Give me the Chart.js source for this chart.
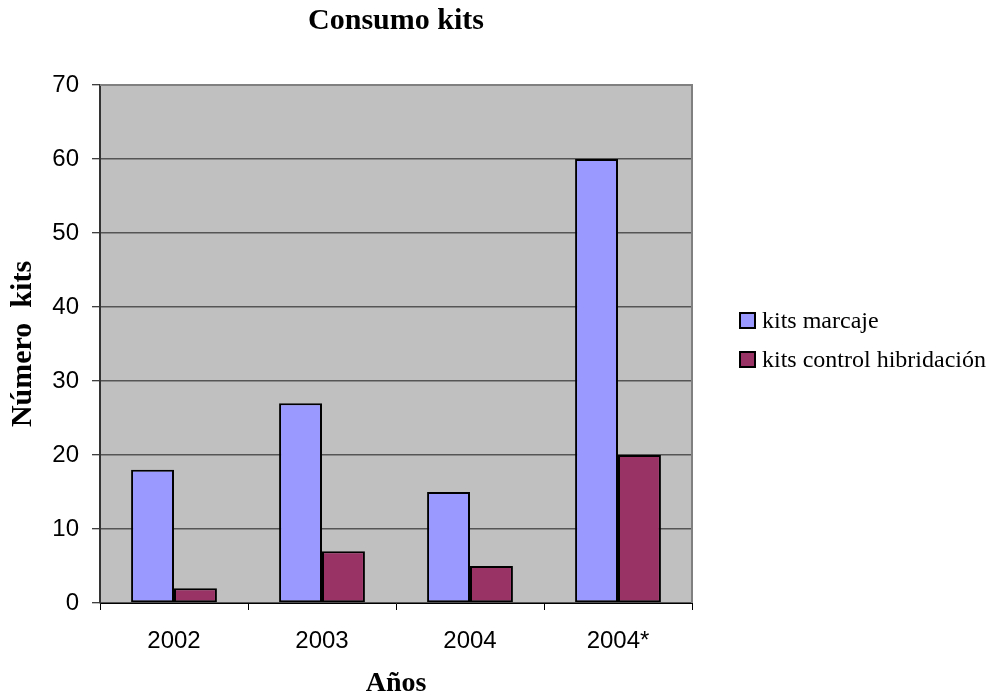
<!DOCTYPE html>
<html>
<head>
<meta charset="utf-8">
<script src="https://cdn.jsdelivr.net/npm/chart.js@4/dist/chart.umd.min.js"></script>
<style>
  html, body { margin: 0; padding: 0; background: #ffffff; }
  #wrap { width: 994px; height: 698px; }
</style>
</head>
<body>
<div id="wrap"><canvas id="c" width="994" height="698"></canvas></div>
<script>
// Yearly kit consumption
const years = ['2002', '2003', '2004', '2004*'];
const kitsMarcaje = [18, 27, 15, 60];
const kitsControl = [2, 7, 5, 20];
const seriesNames = ['kits marcaje', 'kits control hibridación'];
const yTicks = [0, 10, 20, 30, 40, 50, 60, 70];

const serif = '"Liberation Serif", "Times New Roman", serif';
const sans = '"Liberation Sans", Arial, sans-serif';

// Grey plot background with a grey frame on the top and right
const plotBackground = {
  id: 'plotBackground',
  beforeDraw(chart) {
    const { ctx, chartArea: a } = chart;
    ctx.save();
    ctx.fillStyle = '#C0C0C0';
    ctx.fillRect(a.left, a.top, a.right - a.left, a.bottom - a.top);
    ctx.restore();
  },
  afterDatasetsDraw(chart) {
    const { ctx, chartArea: a } = chart;
    ctx.save();
    ctx.strokeStyle = '#808080';
    ctx.lineWidth = 2;
    ctx.beginPath();
    ctx.moveTo(a.left, a.top);
    ctx.lineTo(a.right, a.top);
    ctx.lineTo(a.right, a.bottom);
    ctx.stroke();
    ctx.restore();
  }
};

// Legend to the right of the plot
const sideLegend = {
  id: 'sideLegend',
  afterDraw(chart) {
    const { ctx } = chart;
    const x = 740, y0 = 320.5, step = 39, box = 15;
    ctx.save();
    ctx.font = '24px ' + serif;
    ctx.textBaseline = 'middle';
    ctx.textAlign = 'left';
    chart.data.datasets.forEach((ds, i) => {
      const y = y0 + i * step;
      ctx.fillStyle = ds.backgroundColor;
      ctx.fillRect(x, y - box / 2, box, box);
      ctx.strokeStyle = '#000';
      ctx.lineWidth = 2;
      ctx.strokeRect(x, y - box / 2, box, box);
      ctx.fillStyle = '#000';
      ctx.fillText(ds.label, x + 22, y + 1);
    });
    ctx.restore();
  }
};

new Chart(document.getElementById('c'), {
  type: 'bar',
  data: {
    labels: years,
    datasets: [
      { label: seriesNames[0], data: kitsMarcaje, backgroundColor: '#9999FF', borderColor: '#000', borderWidth: 2 },
      { label: seriesNames[1], data: kitsControl, backgroundColor: '#993366', borderColor: '#000', borderWidth: 2 }
    ]
  },
  options: {
    responsive: false,
    animation: false,
    devicePixelRatio: 1,
    layout: { padding: { left: 0, top: 0, right: 302, bottom: 0 } },
    datasets: { bar: { categoryPercentage: 0.58, barPercentage: 1.0, borderSkipped: false } },
    plugins: {
      legend: { display: false },
      tooltip: { enabled: false },
      title: {
        display: true,
        fullSize: false,
        text: 'Consumo kits',
        color: '#000',
        font: { family: serif, size: 30, weight: 'bold', lineHeight: 1.2 },
        padding: { top: 3, bottom: 46 }
      }
    },
    scales: {
      x: {
        offset: true,
        grid: { offset: true, drawOnChartArea: false, color: '#000', tickLength: 7, tickWidth: 1 },
        border: { color: '#000', width: 1 },
        ticks: { color: '#000', font: { family: sans, size: 24 }, padding: 17 },
        title: {
          display: true,
          text: 'Años',
          color: '#000',
          font: { family: serif, size: 28, weight: 'bold', lineHeight: 1.0 },
          padding: 0
        },
        afterFit(scale) { scale.height = 95; }
      },
      y: {
        min: 0,
        max: 70,
        afterBuildTicks(scale) { scale.ticks = yTicks.map(v => ({ value: v })); },
        grid: { color: '#555', lineWidth: 1.5, tickLength: 8, drawTicks: true, tickColor: '#000', tickWidth: 1 },
        border: { color: '#333', width: 2 },
        ticks: { color: '#000', font: { family: sans, size: 24 }, padding: 13 },
        title: {
          display: true,
          text: 'Número  kits',
          color: '#000',
          font: { family: serif, size: 30, weight: 'bold', lineHeight: 1.2 },
          padding: { top: 5, bottom: 0 }
        },
        afterFit(scale) { scale.width = 100; }
      }
    }
  },
  plugins: [plotBackground, sideLegend]
});
</script>
</body>
</html>
